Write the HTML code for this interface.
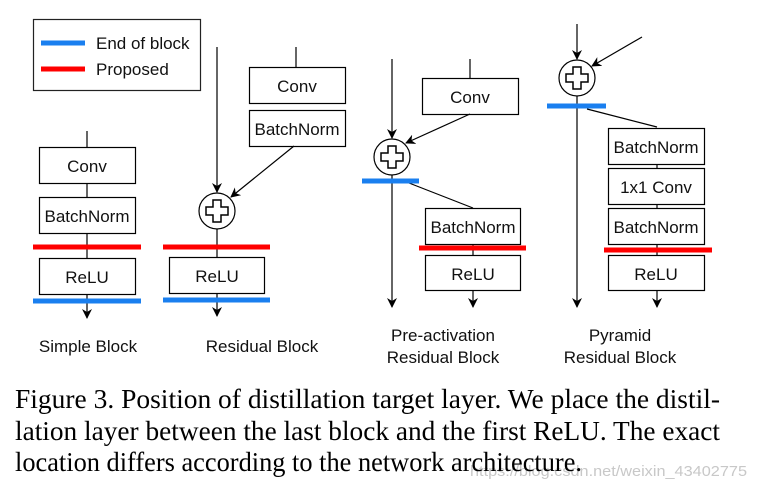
<!DOCTYPE html>
<html><head><meta charset="utf-8"><style>
html,body{margin:0;padding:0;background:#fff;}
svg{display:block;}
.t{font-family:"Liberation Sans",Arial,sans-serif;font-size:17px;fill:#111;text-anchor:middle;}
.c{font-family:"Liberation Serif","Times New Roman",serif;font-size:27px;fill:#000;}
</style></head><body>
<svg width="758" height="492" viewBox="0 0 758 492" xmlns="http://www.w3.org/2000/svg">
<defs>
<marker id="a" markerWidth="10" markerHeight="10" refX="9" refY="5" orient="auto" markerUnits="userSpaceOnUse">
<path d="M0,0 L10,5 L0,10 L3,5 z" fill="#000"/></marker>
<g id="plus"><circle r="18" fill="#fff" stroke="#000" stroke-width="1.2"/>
<path d="M-4,-11 h8 v7 h7 v8 h-7 v7 h-8 v-7 h-7 v-8 h7 z" fill="#fff" stroke="#000" stroke-width="1.5"/></g>
</defs>
<g stroke="#000" stroke-width="1.2" fill="none">
<rect x="33.5" y="19.5" width="167" height="71" stroke="#222"/>
</g>
<line x1="41" y1="43" x2="85" y2="43" stroke="#1a7fef" stroke-width="5"/>
<line x1="41" y1="69" x2="85" y2="69" stroke="#f00" stroke-width="5"/>
<text x="96" y="49" style="font-family:'Liberation Sans',sans-serif;font-size:17px;fill:#111">End of block</text>
<text x="96" y="75" style="font-family:'Liberation Sans',sans-serif;font-size:17px;fill:#111">Proposed</text>

<g stroke="#000" stroke-width="1.2" fill="#fff">
<line x1="87" y1="131" x2="87" y2="318" marker-end="url(#a)"/>
<rect x="39.5" y="147.5" width="96" height="36"/>
<rect x="39.5" y="197.5" width="96" height="36"/>
<rect x="39.5" y="258.5" width="96" height="36"/>
<line x1="217" y1="47" x2="217" y2="192" marker-end="url(#a)"/>
<line x1="296" y1="47" x2="296" y2="67"/>
<rect x="249.5" y="67.5" width="96" height="36"/>
<rect x="249.5" y="110.5" width="96" height="36"/>
<line x1="294" y1="146" x2="231" y2="197" marker-end="url(#a)"/>
<line x1="217" y1="229" x2="217" y2="316" marker-end="url(#a)"/>
<rect x="169.5" y="257.5" width="95" height="36"/>
<line x1="392" y1="59" x2="392" y2="138" marker-end="url(#a)"/>
<line x1="470" y1="59" x2="470" y2="78"/>
<rect x="422.5" y="78.5" width="96" height="36"/>
<line x1="470" y1="114" x2="406" y2="143" marker-end="url(#a)"/>
<line x1="392" y1="175" x2="392" y2="307" marker-end="url(#a)"/>
<line x1="409" y1="183" x2="473" y2="208"/>
<line x1="473" y1="244" x2="473" y2="307" marker-end="url(#a)"/>
<rect x="425.5" y="208.5" width="95" height="36"/>
<rect x="425.5" y="255.5" width="95" height="35"/>
<line x1="577" y1="24" x2="577" y2="59" marker-end="url(#a)"/>
<line x1="642" y1="37" x2="592" y2="66" marker-end="url(#a)"/>
<line x1="577" y1="96" x2="577" y2="307" marker-end="url(#a)"/>
<line x1="587" y1="109" x2="657" y2="127"/>
<line x1="657" y1="164" x2="657" y2="307" marker-end="url(#a)"/>
<rect x="608.5" y="128.5" width="96" height="36"/>
<rect x="608.5" y="168.5" width="96" height="36"/>
<rect x="608.5" y="208.5" width="96" height="36"/>
<rect x="608.5" y="255.5" width="96" height="35"/>
</g>
<use href="#plus" x="217" y="211"/>
<use href="#plus" x="392" y="157"/>
<use href="#plus" x="577" y="78"/>

<g stroke-width="5">
<line x1="33" y1="247" x2="141" y2="247" stroke="#f00"/>
<line x1="33" y1="301" x2="141" y2="301" stroke="#1a7fef"/>
<line x1="163" y1="247" x2="270" y2="247" stroke="#f00"/>
<line x1="163" y1="300" x2="270" y2="300" stroke="#1a7fef"/>
<line x1="362" y1="181" x2="419" y2="181" stroke="#1a7fef"/>
<line x1="419" y1="248" x2="526" y2="248" stroke="#f00"/>
<line x1="547" y1="106" x2="606" y2="106" stroke="#1a7fef"/>
<line x1="604" y1="250" x2="712" y2="250" stroke="#f00"/>
</g>

<text class="t" x="87" y="172">Conv</text>
<text class="t" x="87" y="222">BatchNorm</text>
<text class="t" x="87" y="283">ReLU</text>
<text class="t" x="297" y="92">Conv</text>
<text class="t" x="297" y="135">BatchNorm</text>
<text class="t" x="217" y="282">ReLU</text>
<text class="t" x="470" y="103">Conv</text>
<text class="t" x="473" y="233">BatchNorm</text>
<text class="t" x="473" y="280">ReLU</text>
<text class="t" x="656" y="153">BatchNorm</text>
<text class="t" x="656" y="193">1x1 Conv</text>
<text class="t" x="656" y="233">BatchNorm</text>
<text class="t" x="656" y="280">ReLU</text>

<text class="t" x="88" y="352">Simple Block</text>
<text class="t" x="262" y="352">Residual Block</text>
<text class="t" x="443" y="341">Pre-activation</text>
<text class="t" x="443" y="363">Residual Block</text>
<text class="t" x="620" y="341">Pyramid</text>
<text class="t" x="620" y="363">Residual Block</text>

<text x="470" y="476" style="font-family:'Liberation Sans',sans-serif;font-size:15px;fill:#c8c8c8" textLength="277" lengthAdjust="spacingAndGlyphs">https://blog.csdn.net/weixin_43402775</text>
<text class="c" x="15" y="408" textLength="705" lengthAdjust="spacingAndGlyphs">Figure 3. Position of distillation target layer. We place the distil-</text>
<text class="c" x="15" y="440" textLength="705" lengthAdjust="spacingAndGlyphs">lation layer between the last block and the first ReLU. The exact</text>
<text class="c" x="15" y="471" textLength="567" lengthAdjust="spacingAndGlyphs">location differs according to the network architecture.</text>
</svg>
</body></html>
